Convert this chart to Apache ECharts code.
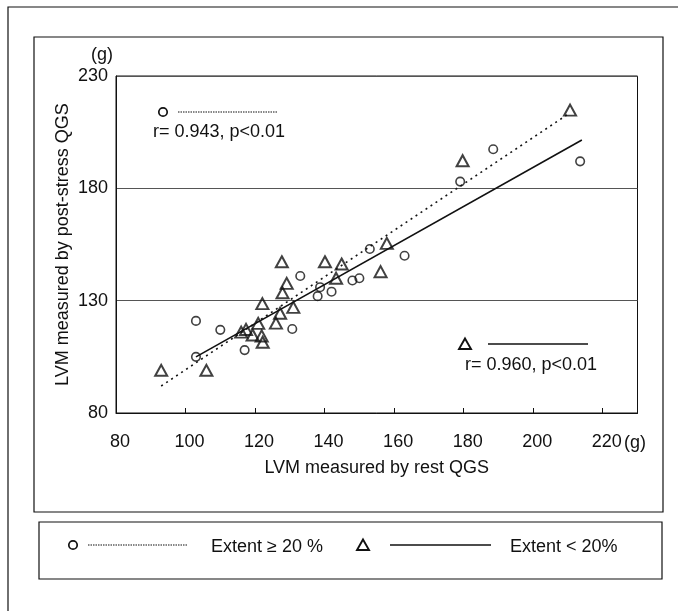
<!DOCTYPE html>
<html>
<head>
<meta charset="utf-8">
<script src="https://cdn.jsdelivr.net/npm/echarts@6/dist/echarts.min.js"></script>
<style>
    html, body { margin: 0; padding: 0; background: #fff; }
    #chart { width: 678px; height: 611px; }
</style>
</head>
<body>
<div id="chart"></div>
<script>
// Extent >= 20% (圆圈)
const highExtent = [
    [103, 121], [110, 117], [103, 105], [117, 108], [130.7, 117.4],
    [133, 141], [138, 132], [138.7, 136], [142, 134], [148, 139],
    [150, 140], [153, 153], [163, 150], [179, 183], [188.5, 197.4],
    [213.5, 192]
];
// Extent < 20% (三角)
const lowExtent = [
    [93, 99], [106, 99], [116, 116], [117.4, 117.2], [120.9, 119.9],
    [119.3, 114.7], [121.9, 114.3], [122.2, 111.5], [126, 120], [122.1, 128.7],
    [127.2, 124.4], [131, 127], [127.9, 133.5], [129.1, 137.7], [127.7, 147.3],
    [140.1, 147.3], [144.9, 146.3], [143.3, 140], [156.1, 142.9], [157.9, 155.5],
    [179.7, 192.3], [210.6, 214.8]
];
// 回归线端点
const highFit = [[93, 92], [210, 213]];
const lowFit = [[103, 105], [214, 201.5]];

const xRange = [80, 230];
const xStep = 20;
const yRange = [80, 230];
const yStep = 50;

const xTitle = 'LVM measured by rest QGS';
const yTitle = 'LVM measured by post-stress QGS';
const unitText = '(g)';
const highStat = 'r= 0.943, p<0.01';
const lowStat = 'r= 0.960, p<0.01';
const highLabel = 'Extent \u2265 20 %';
const lowLabel = 'Extent < 20%';

const FONT = '"Liberation Sans", Arial, sans-serif';
const INK = '#111';

function tri(cx, cy) {
    return {
        type: 'polygon',
        shape: { points: [[cx, cy - 5.5], [cx + 6, cy + 5], [cx - 6, cy + 5]] },
        style: { fill: 'none', stroke: INK, lineWidth: 1.9 }
    };
}
function circ(cx, cy) {
    return {
        type: 'circle',
        shape: { cx: cx, cy: cy, r: 4.2 },
        style: { fill: 'none', stroke: INK, lineWidth: 1.7 }
    };
}
function seg(x1, x2, y, dash) {
    return {
        type: 'line',
        shape: { x1: x1, y1: y, x2: x2, y2: y },
        style: { stroke: INK, lineWidth: dash ? 1.2 : 1.4, lineDash: dash || null }
    };
}
function txt(x, y, text, align) {
    return {
        type: 'text',
        x: x, y: y,
        style: {
            text: text, fill: INK, font: '18px ' + FONT,
            textAlign: align || 'left', textVerticalAlign: 'middle'
        }
    };
}

const chart = echarts.init(document.getElementById('chart'));
chart.setOption({
    animation: false,
    backgroundColor: '#fff',
    grid: {
        left: 116, top: 76, width: 521.5, height: 337,
        show: true, borderColor: INK, borderWidth: 1
    },
    xAxis: {
        type: 'value',
        min: xRange[0], max: xRange[1], interval: xStep,
        name: xTitle, nameLocation: 'middle', nameGap: 46,
        nameTextStyle: { color: INK, fontSize: 18, fontFamily: FONT },
        axisLine: { show: true, lineStyle: { color: INK, width: 1 } },
        axisTick: { show: true, inside: true, length: 5, lineStyle: { color: INK } },
        axisLabel: {
            color: INK, fontSize: 18, fontFamily: FONT, margin: 20,
            padding: [0, 0, 0, 8], showMaxLabel: false,
            formatter: v => (v === xRange[1] ? '' : String(v))
        },
        splitLine: { show: false }
    },
    yAxis: {
        type: 'value',
        min: yRange[0], max: yRange[1], interval: yStep,
        name: yTitle, nameLocation: 'middle', nameGap: 44, nameRotate: 90,
        nameMoveOverlap: false,
        nameTextStyle: { color: INK, fontSize: 18, fontFamily: FONT },
        axisLine: { show: true, lineStyle: { color: INK, width: 1 } },
        axisTick: { show: false },
        axisLabel: {
            color: INK, fontSize: 18, fontFamily: FONT, margin: 8,
            padding: [9, 0, 0, 0]
        },
        splitLine: { show: true, lineStyle: { color: '#555', width: 1.2 } }
    },
    series: [{
        name: highLabel,
        type: 'line',
        data: highFit,
        symbol: 'none',
        silent: true,
        lineStyle: { color: INK, width: 1.6, type: [2, 4] },
        z: 2
    }, {
        name: lowLabel,
        type: 'line',
        data: lowFit,
        symbol: 'none',
        silent: true,
        lineStyle: { color: INK, width: 1.6 },
        z: 2
    }, {
        name: highLabel,
        type: 'scatter',
        data: highExtent,
        symbol: 'circle',
        symbolSize: 8.5,
        itemStyle: { color: 'rgba(255,255,255,0)', borderColor: INK, borderWidth: 1.6 },
        z: 3
    }, {
        name: lowLabel,
        type: 'scatter',
        data: lowExtent,
        symbol: 'triangle',
        symbolSize: [12, 11],
        itemStyle: { color: 'rgba(255,255,255,0)', borderColor: INK, borderWidth: 2 },
        z: 3
    }],
    graphic: [
        // 外框
        { type: 'rect', shape: { x: 8, y: 7, width: 700, height: 700 }, style: { fill: 'none', stroke: INK, lineWidth: 1.2 } },
        { type: 'rect', shape: { x: 34, y: 37, width: 629, height: 475 }, style: { fill: 'none', stroke: INK, lineWidth: 1.2 } },
        // 单位
        txt(102, 55, unitText, 'center'),
        txt(624, 443, unitText),
        // 左上注释
        circ(163, 112), seg(178, 278, 112, [1.5, 1]), txt(153, 132, highStat),
        // 右下注释
        tri(465, 344), seg(488, 588, 344), txt(465, 365, lowStat),
        // 图例框
        { type: 'rect', shape: { x: 39, y: 522, width: 623, height: 57 }, style: { fill: 'none', stroke: INK, lineWidth: 1.2 } },
        circ(73, 545), seg(88, 188, 545, [1.5, 1]), txt(211, 547, highLabel),
        tri(363, 545), seg(390, 491, 545), txt(510, 547, lowLabel)
    ]
});
</script>
</body>
</html>
